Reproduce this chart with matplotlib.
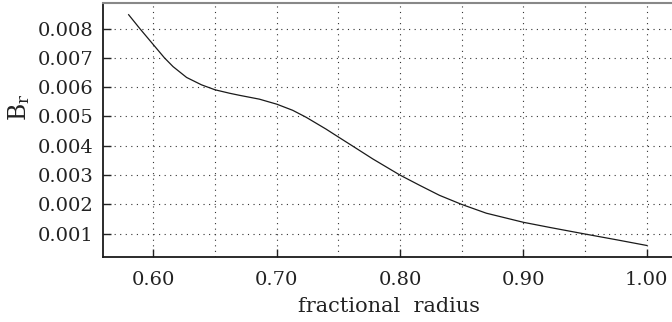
import matplotlib
matplotlib.use('Agg')
import matplotlib.pyplot as plt
from matplotlib.ticker import MultipleLocator, FormatStrFormatter

# radial field profile, B_r against fractional radius
radius = [0.580, 0.589, 0.600, 0.609, 0.616, 0.627, 0.639, 0.650, 0.662, 0.670,
          0.686, 0.700, 0.713, 0.724, 0.740, 0.750, 0.762, 0.778, 0.800, 0.816,
          0.832, 0.850, 0.870, 0.900, 0.922, 0.950, 0.976, 1.000]
b_r = [0.00847, 0.00800, 0.00745, 0.00700, 0.00670, 0.00633, 0.00608, 0.00591,
       0.00579, 0.00572, 0.00559, 0.00542, 0.00521, 0.00497, 0.00457, 0.00430,
       0.00398, 0.00355, 0.00300, 0.00265, 0.00231, 0.00200, 0.00170, 0.00139,
       0.00121, 0.00099, 0.00079, 0.00060]

plt.rcParams['font.family'] = ['DejaVu Serif']
TXT = '#222222'

fig = plt.figure(figsize=(6.72, 3.22), dpi=100)
ax = fig.add_axes([103/672, 65.3/322, 572/672, 253.7/322])

ax.plot(radius, b_r, color='#1a1a1a', lw=0.9)

ax.set_xlim(0.5592, 1.0230)
ax.set_ylim(0.000216, 0.00887)

ax.xaxis.set_major_locator(MultipleLocator(0.1))
ax.xaxis.set_minor_locator(MultipleLocator(0.05))
ax.yaxis.set_major_locator(MultipleLocator(0.001))
ax.xaxis.set_major_formatter(FormatStrFormatter('%.2f'))
ax.yaxis.set_major_formatter(FormatStrFormatter('%.3f'))

ax.grid(which='both', axis='x', color='#333333', lw=0.8, linestyle=(0, (1, 4)))
ax.grid(which='major', axis='y', color='#333333', lw=0.8, linestyle=(0, (1, 4)))

ax.tick_params(which='major', direction='in', length=6, width=1.0,
               labelsize=14, colors=TXT, top=False, right=False)
ax.tick_params(axis='x', pad=10)
ax.tick_params(axis='y', pad=7)
ax.tick_params(which='minor', length=0)

for side in ['left', 'bottom']:
    ax.spines[side].set_linewidth(1.3)
    ax.spines[side].set_color('#1a1a1a')
ax.spines['top'].set_linewidth(1.5)
ax.spines['top'].set_color('#888888')
ax.spines['right'].set_visible(False)

ax.set_xlabel('fractional  radius', fontsize=15, color=TXT, labelpad=6)
ax.set_ylabel(r'$\mathregular{B_r}$', fontsize=17, color=TXT)
ax.yaxis.set_label_coords(-0.124, 0.59)

fig.savefig('out.png', dpi=100, facecolor='white')
